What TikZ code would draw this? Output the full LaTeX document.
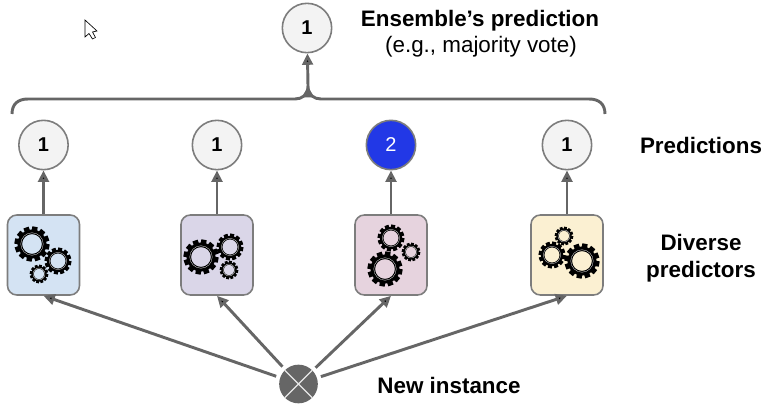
\documentclass[tikz,border=0pt]{standalone}
\usepackage{fontspec}
\setmainfont{Liberation Sans}
\usetikzlibrary{arrows.meta,positioning}
\definecolor{linegray}{HTML}{666666}
\definecolor{votefill}{HTML}{F3F3F3}
\definecolor{voteblue}{HTML}{2238E6}
\tikzset{
	vote/.style={circle,draw=linegray!85,line width=1.2pt,fill=votefill,minimum size=37pt,inner sep=0pt,font=\fontsize{15}{18}\selectfont\bfseries},
	model/.style={draw=linegray!85,line width=1.2pt,rounded corners=7pt,minimum width=54pt,minimum height=60pt,inner sep=0pt},
	conn/.style={draw=linegray,line width=2.2pt,-{Triangle[length=8.5pt,width=8pt]}},
	caption/.style={font=\fontsize{16.8}{20.5}\selectfont\bfseries,align=center},
	pics/gearwheel/.style={code={
		\pgfmathsetmacro{\ringw}{0.27*#1*0.75}
		\pgfmathsetmacro{\toothw}{0.32*#1*0.75}
		\draw[black,line width=\ringw pt] (0,0) circle ({0.72*#1});
		\draw[white,line width=.2pt] (0,0) circle ({0.66*#1});
		\foreach \a in {0,30,...,330}
			\draw[black,line width=\toothw pt] (\a+10:{0.78*#1}) -- (\a+10:{1.03*#1});
	}}
}
\begin{document}
\begin{tikzpicture}[x=0.75pt,y=-0.75pt,node distance=82.5pt,on grid]
	\useasboundingbox (0,0) rectangle (769,410);
	\node[model,fill={rgb,255:red,212;green,227;blue,243}] (m_1) at (43.5,255) {};
	\node[model,fill={rgb,255:red,218;green,214;blue,232}] (m_2) at (217,255) {};
	\node[model,fill={rgb,255:red,230;green,211;blue,222}] (m_3) at (391,255) {};
	\node[model,fill={rgb,255:red,251;green,240;blue,210}] (m_4) at (567,255) {};
	\node[vote] (p_1) [above=of m_1] {1};
	\node[vote] (p_2) [above=of m_2] {1};
	\node[vote,fill=voteblue,text=white,font=\fontsize{15}{18}\selectfont] (p_3) [above=of m_3] {2};
	\node[vote] (p_4) [above=of m_4] {1};
	\node[vote] (top) at (307,28) {1};
	\node[circle,fill=linegray,minimum size=29pt,inner sep=0pt] (inst) at (298.5,384) {};
	\draw[white!85!linegray,line width=1pt] (inst.north west) -- (inst.south east) (inst.north east) -- (inst.south west);

	% gears
	\pic at (32,244) {gearwheel=17};
	\pic at (58,261) {gearwheel=13};
	\pic at (39,274) {gearwheel=9};
	\pic at (201,257) {gearwheel=17};
	\pic at (230,247) {gearwheel=13};
	\pic at (229,270) {gearwheel=9};
	\pic at (385,269) {gearwheel=17};
	\pic at (391,238) {gearwheel=13};
	\pic at (411,252) {gearwheel=9};
	\pic at (582,261) {gearwheel=17};
	\pic at (552,255) {gearwheel=13};
	\pic at (564,236) {gearwheel=9};

	\path[conn]
		(m_1) edge (p_1)
		(m_2) edge (p_2)
		(m_3) edge (p_3)
		(m_4) edge (p_4)
		(inst) edge [shorten <=3pt] (m_1.south)
		(inst) edge [shorten <=3pt] (m_2.south)
		(inst) edge [shorten <=3pt] (m_3.south)
		(inst) edge [shorten <=3pt] (m_4.south)
		;

	% brace
	\coordinate (b_l) at (12,114);
	\coordinate (b_r) at (605,114);
	\coordinate (b_m) at (308,86);
	\draw[linegray,line width=2.2pt] (b_l) .. controls (12,104) and (18,99) .. (28,99) -- (295,99) .. controls (302,99) and (308,95) .. (b_m) .. controls (308,95) and (314,99) .. (321,99) -- (589,99) .. controls (599,99) and (605,104) .. (b_r);
	\path[conn] (b_m) edge (top);

	% cursor
	\filldraw[fill=white,draw=black,line width=.5pt] (85,20) -- (85,37) -- (89,33.5) -- (92.5,39) -- (95.5,37.5) -- (92.5,32) -- (97,31) -- cycle;

	% labels
	\node[caption] (t_top) at (480,20.5) {Ensemble’s prediction};
	\node[caption,font=\fontsize{16.8}{20.5}\selectfont] (t_sub) at (481,46.5) {(e.g., majority vote)};
	\node[caption] (t_pred) at (701,145) {Predictions};
	\node[caption] (t_div) at (701,258) {Diverse\\predictors};
	\node[caption] (t_new) at (449,385) {New instance};
\end{tikzpicture}
\end{document}
